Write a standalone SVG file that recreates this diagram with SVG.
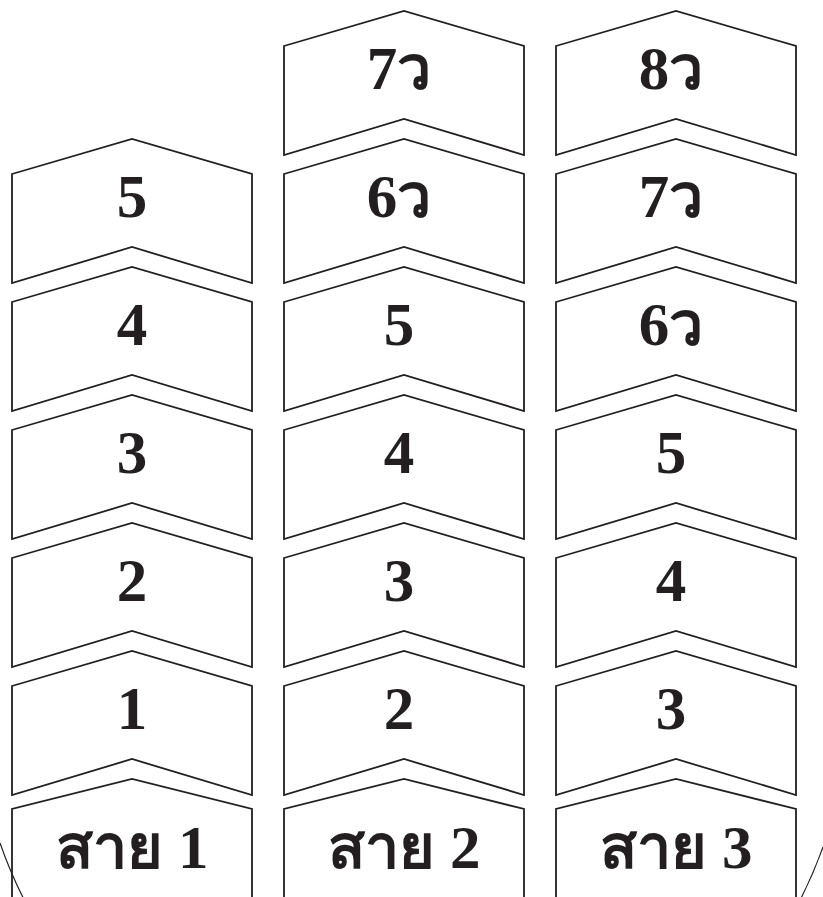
<svg xmlns="http://www.w3.org/2000/svg" width="823" height="897" viewBox="0 0 823 897">
<style>
.s{fill:#fff;stroke:#231f20;stroke-width:1.8;stroke-linejoin:miter}
.t{font-family:"Liberation Serif","Times New Roman",serif;font-weight:bold;font-size:61px;fill:#231f20;text-anchor:middle}
.arc{fill:none;stroke:#231f20;stroke-width:1.2}
</style>
<defs>
<path id="ch" d="M-120,35 L0,0 L120,35 L120,144 L0,108 L-120,144 Z"/>
<path id="last" d="M-120,920 L-120,30 L0,0 L120,30 L120,920"/>
</defs>
<g id="connectors"></g>
<g id="col1">
<g id="c1r1"><use href="#ch" class="s" x="132" y="139"/><text class="t" x="132" y="217">5</text></g>
<g id="c1r2"><use href="#ch" class="s" x="132" y="267"/><text class="t" x="132" y="345">4</text></g>
<g id="c1r3"><use href="#ch" class="s" x="132" y="395"/><text class="t" x="132" y="473">3</text></g>
<g id="c1r4"><use href="#ch" class="s" x="132" y="523"/><text class="t" x="132" y="601">2</text></g>
<g id="c1r5"><use href="#ch" class="s" x="132" y="651"/><text class="t" x="132" y="729">1</text></g>
<g id="c1r6"><use href="#last" class="s" x="132" y="779"/><text class="t" x="132" y="868">สาย 1</text></g>
</g>
<g id="col2">
<g id="c2r0"><use href="#ch" class="s" x="404" y="11"/><text class="t" x="399" y="89">7ว</text></g>
<g id="c2r1"><use href="#ch" class="s" x="404" y="139"/><text class="t" x="399" y="217">6ว</text></g>
<g id="c2r2"><use href="#ch" class="s" x="404" y="267"/><text class="t" x="399" y="345">5</text></g>
<g id="c2r3"><use href="#ch" class="s" x="404" y="395"/><text class="t" x="399" y="473">4</text></g>
<g id="c2r4"><use href="#ch" class="s" x="404" y="523"/><text class="t" x="399" y="601">3</text></g>
<g id="c2r5"><use href="#ch" class="s" x="404" y="651"/><text class="t" x="399" y="729">2</text></g>
<g id="c2r6"><use href="#last" class="s" x="404" y="779"/><text class="t" x="404" y="868">สาย 2</text></g>
</g>
<g id="col3">
<g id="c3r0"><use href="#ch" class="s" x="676" y="11"/><text class="t" x="671" y="89">8ว</text></g>
<g id="c3r1"><use href="#ch" class="s" x="676" y="139"/><text class="t" x="671" y="217">7ว</text></g>
<g id="c3r2"><use href="#ch" class="s" x="676" y="267"/><text class="t" x="671" y="345">6ว</text></g>
<g id="c3r3"><use href="#ch" class="s" x="676" y="395"/><text class="t" x="671" y="473">5</text></g>
<g id="c3r4"><use href="#ch" class="s" x="676" y="523"/><text class="t" x="671" y="601">4</text></g>
<g id="c3r5"><use href="#ch" class="s" x="676" y="651"/><text class="t" x="671" y="729">3</text></g>
<g id="c3r6"><use href="#last" class="s" x="676" y="779"/><text class="t" x="676" y="868">สาย 3</text></g>
</g>
<path class="arc" d="M0,843 A436,436 0 0 0 823,847"/>
</svg>
